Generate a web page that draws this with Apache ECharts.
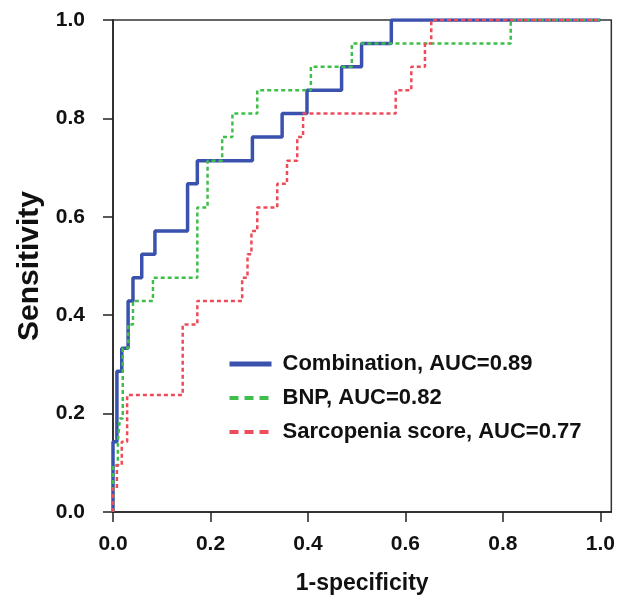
<!DOCTYPE html>
<html>
<head>
<meta charset="utf-8">
<script src="https://cdn.jsdelivr.net/npm/echarts@6/dist/echarts.min.js"></script>
<style>
html,body{margin:0;padding:0;background:#fff;}
#chart{width:618px;height:603px;}
</style>
</head>
<body>
<div id="chart"></div>
<script>
// ROC step curves: x = 1-specificity at each riser, y = sensitivity at the top of that riser
var combX = [0, 0, 0.008, 0.018, 0.031, 0.041, 0.059, 0.086, 0.153, 0.173, 0.286, 0.347, 0.398, 0.469, 0.510, 0.571, 1.0];
var combY = [0, 0.143, 0.286, 0.333, 0.429, 0.476, 0.524, 0.571, 0.667, 0.714, 0.762, 0.810, 0.857, 0.905, 0.952, 1.0, 1.0];

var bnpX = [0, 0, 0.010, 0.014, 0.020, 0.031, 0.041, 0.082, 0.173, 0.194, 0.224, 0.245, 0.296, 0.406, 0.490, 0.816, 1.0];
var bnpY = [0, 0.095, 0.143, 0.190, 0.333, 0.381, 0.429, 0.476, 0.619, 0.714, 0.762, 0.810, 0.857, 0.905, 0.952, 1.0, 1.0];

var sarcX = [0, 0, 0.008, 0.018, 0.029, 0.143, 0.173, 0.265, 0.276, 0.284, 0.296, 0.337, 0.357, 0.378, 0.390, 0.580, 0.612, 0.640, 0.653, 1.0];
var sarcY = [0, 0.048, 0.095, 0.143, 0.238, 0.381, 0.429, 0.476, 0.524, 0.571, 0.619, 0.667, 0.714, 0.762, 0.810, 0.857, 0.905, 0.952, 1.0, 1.0];

var seriesNames = ['Combination, AUC=0.89', 'BNP, AUC=0.82', 'Sarcopenia score, AUC=0.77'];
var tickValues = [0, 0.2, 0.4, 0.6, 0.8, 1.0];

function pairs(xs, ys) {
  var out = [];
  for (var i = 0; i < xs.length; i++) out.push([xs[i], ys[i]]);
  return out;
}

var FONT = 'Liberation Sans, Arial, sans-serif';
var BLUE = '#3a52ad', GREEN = '#3fbf4a', RED = '#ee4b5a';
var hidden = {color: 'rgba(0,0,0,0)', borderColor: 'rgba(0,0,0,0)', borderWidth: 0};
var chart = echarts.init(document.getElementById('chart'), null, {renderer: 'canvas'});

chart.setOption({
  animation: false,
  backgroundColor: '#ffffff',
  grid: {left: 113, right: 4, top: 20, bottom: 91, show: true, borderColor: '#333', borderWidth: 1.5, backgroundColor: 'transparent'},
  legend: {
    orient: 'vertical',
    left: 222,
    top: 347,
    itemWidth: 42,
    itemHeight: 14,
    itemGap: 10,
    textStyle: {fontFamily: FONT, fontWeight: 'bold', fontSize: 22, color: '#111', lineHeight: 24, padding: [0, 0, 0, 6]},
    data: [
      {name: seriesNames[0], itemStyle: hidden, lineStyle: {color: BLUE, width: 5, type: 'solid'}},
      {name: seriesNames[1], itemStyle: hidden, lineStyle: {color: GREEN, width: 4, type: [9, 6]}},
      {name: seriesNames[2], itemStyle: hidden, lineStyle: {color: RED, width: 4, type: [9, 6]}}
    ]
  },
  xAxis: {
    type: 'value',
    min: 0,
    max: 1.0224,
    interval: 0.2,
    name: '1-specificity',
    nameLocation: 'middle',
    nameGap: 60,
    nameTextStyle: {fontFamily: FONT, fontWeight: 'bold', fontSize: 23, color: '#111'},
    axisLine: {show: true, onZero: false, lineStyle: {color: '#222', width: 1.5}},
    axisTick: {show: true, length: 10, customValues: tickValues, lineStyle: {color: '#222', width: 1.5}},
    axisLabel: {show: true, customValues: tickValues, margin: 22, fontFamily: FONT, fontWeight: 'bold', fontSize: 21, color: '#111',
      formatter: function (v) { return v.toFixed(1); }},
    splitLine: {show: false}
  },
  yAxis: {
    type: 'value',
    min: 0,
    max: 1,
    interval: 0.2,
    name: 'Sensitivity',
    nameLocation: 'middle',
    nameGap: 67,
    nameTextStyle: {fontFamily: FONT, fontWeight: 'bold', fontSize: 30, color: '#111'},
    axisLine: {show: true, onZero: false, lineStyle: {color: '#222', width: 1.5}},
    axisTick: {show: true, length: 10, lineStyle: {color: '#222', width: 1.5}},
    axisLabel: {show: true, margin: 28, fontFamily: FONT, fontWeight: 'bold', fontSize: 21, color: '#111',
      formatter: function (v) { return v.toFixed(1); }},
    splitLine: {show: false}
  },
  series: [
    {name: seriesNames[0], type: 'line', step: 'end', symbol: 'none', data: pairs(combX, combY),
      lineStyle: {color: BLUE, width: 3.5, type: 'solid'}, itemStyle: {color: BLUE}, z: 2},
    {name: seriesNames[1], type: 'line', step: 'end', symbol: 'none', data: pairs(bnpX, bnpY),
      lineStyle: {color: GREEN, width: 2.5, type: [4, 3]}, itemStyle: {color: GREEN}, z: 3},
    {name: seriesNames[2], type: 'line', step: 'end', symbol: 'none', data: pairs(sarcX, sarcY),
      lineStyle: {color: RED, width: 2.5, type: [4, 3]}, itemStyle: {color: RED}, z: 4}
  ]
});
</script>
</body>
</html>
